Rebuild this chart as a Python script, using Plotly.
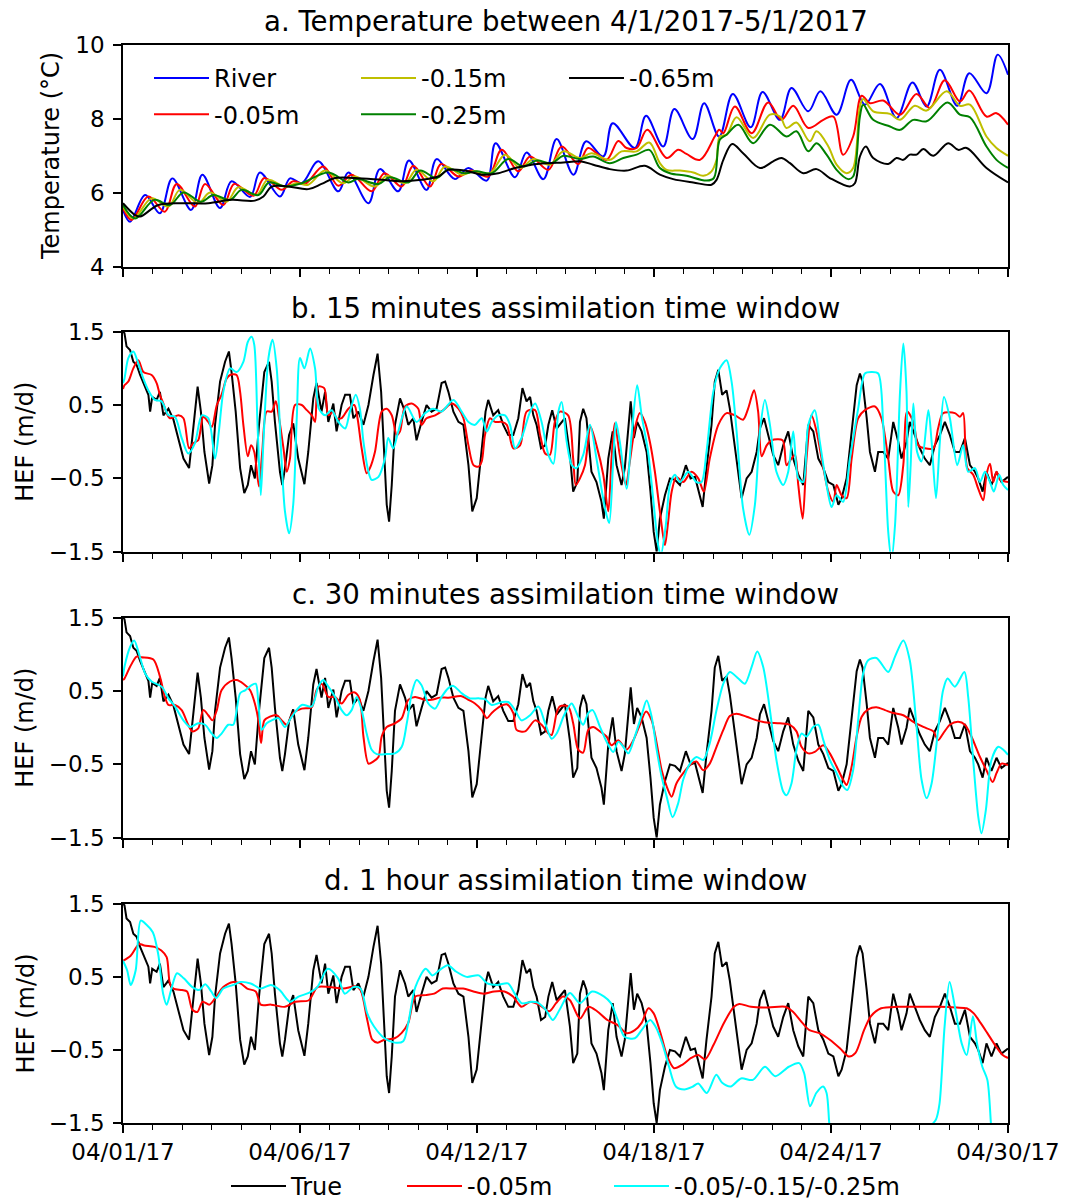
import plotly.graph_objects as go

# ---------------- data (x = days since 04/01/17 00:00) ----------------
X_TICK_DAYS = [0, 6, 12, 18, 24, 30]
X_TICK_LABELS = ["04/01/17", "04/06/17", "04/12/17", "04/18/17", "04/24/17", "04/30/17"]
TEMP_TICKS = [4, 6, 8, 10]
HEF_TICKS = [-1.5, -0.5, 0.5, 1.5]
HEF_TICK_LABELS = ["\u22121.5", "\u22120.5", "0.5", "1.5"]

# panel a: temperature (degC)
RIVER = [(0.0,5.55),(0.24,5.23),(0.75,5.95),(1.25,5.46),(1.67,6.4),(2.31,5.55),(2.69,6.5),(3.29,5.6),(3.68,6.32),(4.31,5.9),(4.64,6.56),(5.32,5.91),(5.66,6.4),(6.06,6.27),(6.62,6.86),(7.3,6.05),(7.64,6.56),(8.32,5.73),(8.71,6.65),(9.33,6.05),(9.69,6.88),(10.29,6.09),(10.63,6.92),(11.25,6.38),(11.71,6.68),(12.33,6.34),(12.63,7.35),(13.29,6.43),(13.68,7.1),(14.25,6.38),(14.7,7.46),(15.27,6.5),(15.7,7.4),(16.28,6.99),(16.6,7.89),(17.35,7.22),(17.73,8.09),(18.31,7.26),(18.69,8.27),(19.31,7.46),(19.7,8.43),(20.21,7.53),(20.67,8.68),(21.28,7.78),(21.68,8.73),(22.27,7.98),(22.66,8.84),(23.23,8.21),(23.64,8.75),(24.19,8.12),(24.68,9.06),(25.15,8.39),(25.66,8.95),(26.22,8.03),(26.76,8.99),(27.24,8.34),(27.69,9.33),(28.28,8.36),(28.69,9.24),(29.27,8.7),(29.65,9.74),(30.0,9.2)]
T005 = [(0.0,5.6),(0.29,5.28),(0.86,5.91),(1.42,5.5),(1.82,6.25),(2.44,5.64),(2.78,6.25),(3.4,5.68),(3.77,6.25),(4.42,5.93),(4.79,6.41),(5.38,6.09),(5.77,6.32),(6.17,6.25),(6.79,6.72),(7.3,6.2),(7.75,6.5),(8.43,6.05),(8.86,6.54),(9.45,6.18),(9.84,6.74),(10.41,6.18),(10.78,6.79),(11.37,6.45),(11.8,6.61),(12.38,6.45),(12.84,7.17),(13.4,6.59),(13.8,6.99),(14.42,6.63),(14.87,7.26),(15.43,6.79),(15.77,7.22),(16.39,6.9),(16.79,7.41),(17.07,7.22),(17.41,7.22),(17.77,7.71),(18.43,6.95),(18.82,7.17),(19.1,7.06),(19.56,6.9),(20.06,7.53),(20.21,7.71),(20.35,7.62),(20.74,8.34),(21.31,7.62),(21.87,8.45),(22.32,7.98),(22.72,8.36),(23.23,7.76),(23.74,7.98),(24.08,8.07),(24.41,7.04),(24.75,7.53),(25.04,8.63),(25.32,8.43),(25.77,8.5),(26.34,8.12),(26.9,8.68),(27.35,8.3),(27.86,9.05),(28.37,8.48),(28.69,8.77),(29.27,8.07),(29.61,8.16),(30.0,7.85)]
T015 = [(0.0,5.64),(0.35,5.32),(0.97,5.86),(1.54,5.64),(1.93,6.09),(2.55,5.73),(2.95,6.02),(3.51,5.77),(3.91,6.16),(4.53,5.95),(4.9,6.36),(5.49,6.18),(5.89,6.27),(6.28,6.23),(6.85,6.61),(7.45,6.27),(7.86,6.45),(8.54,6.18),(8.94,6.47),(9.56,6.27),(9.95,6.63),(10.52,6.32),(10.92,6.72),(11.48,6.5),(11.88,6.59),(12.44,6.54),(12.95,7.04),(13.46,6.68),(13.91,6.92),(14.47,6.77),(14.93,7.13),(15.49,6.95),(15.88,7.08),(16.5,6.9),(16.9,7.13),(17.41,7.13),(17.84,7.37),(18.2,6.81),(18.43,6.63),(18.88,6.61),(19.33,6.56),(19.67,6.47),(19.95,6.59),(20.12,6.9),(20.23,7.53),(20.46,7.58),(20.8,8.05),(21.36,7.49),(21.93,8.12),(22.27,8.07),(22.49,7.76),(22.83,7.91),(23.28,7.4),(23.51,7.67),(23.91,7.26),(24.19,6.77),(24.53,6.54),(24.75,6.68),(24.98,8.34),(25.09,8.54),(25.43,8.21),(26.0,8.14),(26.34,7.98),(26.84,8.36),(27.24,8.23),(27.92,8.75),(28.37,8.36),(28.71,8.39),(29.27,7.53),(29.61,7.22),(30.0,7.01)]
T025 = [(0.0,5.68),(0.41,5.32),(1.06,5.82),(1.59,5.68),(2.05,6.02),(2.64,5.77),(3.06,5.95),(3.63,5.82),(4.02,6.09),(4.59,5.95),(4.95,6.29),(5.49,6.18),(6.06,6.27),(6.96,6.56),(7.64,6.29),(7.95,6.38),(8.66,6.25),(9.05,6.43),(9.67,6.29),(10.07,6.61),(10.63,6.41),(11.03,6.65),(11.59,6.54),(11.99,6.59),(12.5,6.54),(13.06,6.92),(13.57,6.72),(14.02,6.88),(14.53,6.81),(14.93,7.01),(15.49,6.92),(15.94,6.99),(16.5,6.81),(16.96,6.95),(17.41,7.04),(17.84,7.17),(18.2,6.68),(18.54,6.54),(19.1,6.47),(19.78,6.34),(20.03,6.41),(20.23,7.44),(20.46,7.58),(20.86,7.85),(21.36,7.35),(21.93,7.85),(22.49,7.53),(22.83,7.67),(23.23,7.13),(23.51,7.35),(23.85,7.04),(24.19,6.63),(24.58,6.38),(24.75,6.45),(24.98,8.07),(25.09,8.39),(25.43,7.98),(26.0,7.8),(26.34,7.71),(26.79,7.98),(27.24,7.94),(27.95,8.45),(28.37,8.12),(28.71,8.05),(29.27,7.26),(29.61,6.9),(30.0,6.68)]
T065 = [(0.0,5.73),(0.41,5.41),(0.58,5.37),(1.2,5.68),(1.99,5.73),(2.89,5.73),(3.68,5.82),(4.47,5.8),(4.76,5.91),(5.04,6.18),(5.6,6.18),(6.28,6.11),(6.73,6.25),(7.19,6.41),(7.86,6.41),(8.77,6.36),(9.45,6.32),(10.12,6.36),(10.69,6.45),(11.03,6.63),(11.59,6.61),(12.16,6.5),(12.72,6.54),(13.29,6.68),(13.85,6.77),(14.42,6.81),(14.93,6.83),(15.49,6.86),(15.94,6.77),(16.5,6.65),(17.07,6.61),(17.69,6.74),(18.2,6.5),(18.65,6.38),(19.33,6.29),(19.95,6.23),(20.12,6.36),(20.35,6.9),(20.65,7.33),(21.02,7.08),(21.59,6.68),(22.04,6.86),(22.32,6.95),(22.61,6.81),(23.06,6.54),(23.51,6.65),(23.96,6.41),(24.64,6.18),(24.81,6.27),(24.98,6.99),(25.18,7.26),(25.43,6.95),(25.94,6.79),(26.22,6.95),(26.45,6.9),(26.67,7.04),(26.9,7.04),(27.13,7.19),(27.47,7.01),(27.97,7.35),(28.31,7.17),(28.6,7.22),(29.27,6.68),(30.0,6.29)]

# panels b-d: hyporheic exchange flux (m/d)
TRUE_HEF = [(0.0,1.5),(0.05,1.48),(0.12,1.3),(0.24,1.25),(0.35,1.09),(0.46,1.05),(0.58,0.91),(0.75,0.75),(0.86,0.64),(0.92,0.41),(0.99,0.61),(1.14,0.57),(1.25,0.68),(1.37,0.36),(1.54,0.45),(1.71,0.3),(1.88,0.05),(2.05,-0.23),(2.24,-0.36),(2.35,0.05),(2.53,0.75),(2.64,0.41),(2.76,-0.14),(2.92,-0.57),(3.03,-0.32),(3.12,0.23),(3.29,0.82),(3.46,1.09),(3.59,1.23),(3.68,0.95),(3.82,0.41),(3.97,-0.36),(4.11,-0.7),(4.23,-0.59),(4.34,-0.32),(4.47,-0.5),(4.61,0.23),(4.79,0.95),(4.95,1.09),(5.04,0.82),(5.15,0.27),(5.32,-0.41),(5.4,-0.59),(5.49,-0.36),(5.63,0.09),(5.77,0.25),(5.94,-0.23),(6.15,-0.58),(6.28,-0.14),(6.45,0.59),(6.56,0.8),(6.73,0.41),(6.85,0.68),(6.96,0.27),(7.13,0.52),(7.24,0.14),(7.41,0.5),(7.53,0.64),(7.69,0.64),(7.81,0.32),(7.98,0.41),(8.15,0.23),(8.32,0.5),(8.49,0.91),(8.63,1.2),(8.75,0.68),(8.86,-0.23),(8.94,-0.86),(9.02,-1.09),(9.11,-0.59),(9.22,0.23),(9.39,0.59),(9.56,0.41),(9.67,0.23),(9.84,0.32),(9.95,0.02),(10.12,0.27),(10.29,0.5),(10.46,0.41),(10.63,0.45),(10.8,0.8),(10.92,0.82),(11.03,0.68),(11.2,0.41),(11.37,0.27),(11.54,0.23),(11.71,-0.32),(11.84,-0.95),(11.99,-0.77),(12.16,-0.14),(12.29,0.41),(12.38,0.57),(12.55,0.36),(12.72,0.43),(12.89,0.23),(13.06,0.09),(13.23,0.09),(13.4,0.32),(13.54,0.73),(13.68,0.55),(13.8,0.61),(13.91,0.36),(14.02,0.23),(14.17,-0.09),(14.31,-0.05),(14.42,0.23),(14.55,0.43),(14.7,0.18),(14.81,0.23),(14.98,0.32),(15.15,-0.18),(15.26,-0.68),(15.4,-0.55),(15.49,0.27),(15.6,0.45),(15.71,0.32),(15.88,-0.41),(16.05,-0.55),(16.22,-0.82),(16.3,-1.05),(16.45,-0.23),(16.6,0.14),(16.73,-0.32),(16.9,-0.59),(17.01,-0.36),(17.21,0.55),(17.32,0.05),(17.43,0.27),(17.58,0.14),(17.75,-0.14),(17.88,-0.68),(17.99,-1.23),(18.09,-1.5),(18.2,-1.05),(18.37,-0.73),(18.54,-0.5),(18.71,-0.52),(18.88,-0.59),(19.08,-0.32),(19.24,-0.5),(19.39,-0.48),(19.56,-0.73),(19.65,-0.89),(19.78,-0.36),(19.95,0.23),(20.06,0.82),(20.18,0.98),(20.31,0.64),(20.46,0.7),(20.57,0.45),(20.69,0.09),(20.86,-0.41),(20.97,-0.77),(21.14,-0.5),(21.31,-0.41),(21.48,-0.14),(21.59,0.18),(21.73,0.32),(21.87,0.09),(22.04,-0.18),(22.21,-0.32),(22.38,-0.05),(22.55,0.14),(22.72,-0.23),(22.89,-0.45),(23.06,-0.59),(23.23,0.23),(23.4,0.14),(23.57,-0.23),(23.74,-0.36),(23.91,-0.55),(24.08,-0.59),(24.25,-0.86),(24.36,-0.77),(24.53,-0.5),(24.7,0.09),(24.87,0.77),(24.98,0.93),(25.07,0.82),(25.21,0.32),(25.32,-0.14),(25.49,-0.41),(25.6,-0.14),(25.77,-0.14),(25.94,-0.23),(26.11,0.27),(26.28,0.0),(26.39,-0.23),(26.56,0.0),(26.67,0.27),(26.84,0.09),(27.01,-0.09),(27.18,-0.23),(27.35,-0.32),(27.52,-0.05),(27.69,0.09),(27.86,0.27),(28.03,0.09),(28.2,-0.14),(28.37,-0.14),(28.54,0.05),(28.71,-0.32),(28.88,-0.41),(28.99,-0.5),(29.14,-0.68),(29.27,-0.41),(29.44,-0.59),(29.61,-0.41),(29.78,-0.55),(30.0,-0.48)]

RED_15MIN = [(0.0,0.72),(0.05,0.77),(0.18,0.82),(0.35,1.0),(0.52,1.11),(0.69,0.95),(0.97,0.91),(1.14,0.8),(1.25,0.64),(1.37,0.52),(1.48,0.39),(1.59,0.32),(1.88,0.36),(2.05,0.32),(2.24,-0.09),(2.38,-0.02),(2.55,0.02),(2.72,0.34),(2.89,0.27),(3.01,0.2),(3.18,0.5),(3.34,0.64),(3.51,0.86),(3.63,0.91),(3.85,0.91),(3.97,0.68),(4.08,0.23),(4.23,-0.2),(4.34,-0.05),(4.45,-0.14),(4.61,-0.61),(4.72,-0.14),(4.87,0.41),(5.04,0.41),(5.18,0.55),(5.29,0.32),(5.44,-0.09),(5.55,-0.41),(5.66,-0.23),(5.83,0.5),(6.06,0.5),(6.23,0.43),(6.4,0.36),(6.51,0.27),(6.62,0.75),(6.82,0.73),(6.96,0.36),(7.13,0.41),(7.24,0.32),(7.41,0.32),(7.64,0.45),(7.84,0.5),(7.95,0.32),(8.09,-0.09),(8.26,-0.43),(8.37,-0.36),(8.54,-0.14),(8.77,0.41),(8.94,0.45),(9.11,0.36),(9.28,0.09),(9.39,0.14),(9.56,0.48),(9.79,0.52),(10.01,0.45),(10.12,0.23),(10.29,0.32),(10.58,0.36),(10.86,0.43),(11.14,0.52),(11.37,0.45),(11.54,0.32),(11.71,-0.05),(11.88,-0.32),(12.05,-0.34),(12.16,-0.27),(12.27,0.09),(12.44,0.32),(12.61,0.27),(12.84,0.27),(13.01,0.23),(13.23,-0.09),(13.46,-0.05),(13.68,0.41),(13.97,0.43),(14.14,0.09),(14.31,-0.16),(14.47,-0.18),(14.64,0.27),(14.81,0.41),(15.09,0.36),(15.26,-0.23),(15.35,-0.59),(15.49,-0.5),(15.66,-0.32),(15.85,0.2),(16.05,-0.05),(16.28,-0.45),(16.45,-0.95),(16.56,-0.23),(16.67,0.25),(16.84,-0.18),(17.05,-0.59),(17.18,-0.27),(17.35,0.18),(17.52,0.39),(17.69,0.27),(17.86,0.0),(18.03,-0.41),(18.2,-0.95),(18.37,-1.41),(18.48,-1.09),(18.6,-0.68),(18.76,-0.48),(18.99,-0.55),(19.27,-0.41),(19.5,-0.5),(19.69,-0.68),(19.89,-0.23),(20.18,0.23),(20.46,0.39),(20.74,0.36),(21.02,0.3),(21.19,0.45),(21.39,0.7),(21.53,0.41),(21.65,-0.2),(21.82,-0.05),(21.99,0.02),(22.36,0.02),(22.49,-0.32),(22.66,-0.23),(22.78,-0.18),(22.89,-0.59),(23.04,-1.05),(23.17,-0.23),(23.34,0.36),(23.51,0.14),(23.74,-0.36),(23.91,-0.68),(24.08,-0.82),(24.19,-0.59),(24.36,-0.73),(24.53,-0.77),(24.7,-0.23),(24.92,0.32),(25.15,0.43),(25.49,0.48),(25.71,0.32),(25.94,-0.23),(26.11,-0.68),(26.28,-0.73),(26.45,-0.32),(26.58,0.41),(26.79,0.27),(26.96,-0.05),(27.18,-0.09),(27.47,-0.09),(27.63,0.18),(27.8,0.39),(28.2,0.39),(28.37,0.34),(28.48,0.39),(28.62,-0.36),(28.82,-0.45),(28.99,-0.64),(29.16,-0.8),(29.27,-0.45),(29.39,-0.3),(29.5,-0.55),(29.61,-0.41),(29.73,-0.52),(30.0,-0.55)]
CYAN_15MIN = [(0.0,0.8),(0.05,0.86),(0.18,1.14),(0.35,1.23),(0.5,1.09),(0.69,0.86),(0.86,0.7),(1.08,0.57),(1.31,0.55),(1.54,0.36),(1.76,0.34),(1.99,0.05),(2.21,-0.16),(2.44,-0.02),(2.67,0.36),(2.89,0.32),(3.12,-0.23),(3.25,0.14),(3.4,0.68),(3.63,1.0),(3.85,0.95),(4.08,1.09),(4.23,1.36),(4.36,1.43),(4.45,1.32),(4.56,0.23),(4.67,-0.73),(4.76,0.0),(4.93,1.14),(5.07,1.39),(5.21,1.0),(5.36,-0.14),(5.49,-0.95),(5.63,-1.25),(5.77,-0.86),(5.89,0.32),(6.0,1.14),(6.15,1.0),(6.34,1.27),(6.51,1.0),(6.64,0.45),(6.85,0.36),(7.07,0.43),(7.3,0.27),(7.53,0.18),(7.69,0.41),(7.89,0.64),(8.03,0.45),(8.15,0.0),(8.32,-0.41),(8.43,-0.52),(8.66,-0.48),(8.88,-0.23),(8.99,0.05),(9.16,-0.09),(9.33,0.14),(9.62,0.48),(9.95,0.27),(10.24,0.39),(10.52,0.45),(10.8,0.41),(11.2,0.57),(11.48,0.41),(11.71,0.27),(11.93,0.23),(12.16,0.32),(12.33,0.14),(12.5,0.27),(12.72,0.36),(12.95,0.36),(13.12,0.23),(13.29,-0.09),(13.51,0.05),(13.8,0.41),(13.97,0.52),(14.19,0.27),(14.42,-0.18),(14.59,-0.3),(14.76,0.41),(14.87,0.54),(15.04,0.0),(15.21,-0.32),(15.37,-0.36),(15.6,-0.18),(15.83,0.23),(16.05,-0.23),(16.34,-0.91),(16.48,-1.11),(16.62,-0.23),(16.71,0.27),(16.84,0.0),(17.07,-0.64),(17.24,0.09),(17.43,0.77),(17.58,0.36),(17.8,-0.14),(17.97,-0.77),(18.14,-1.41),(18.23,-1.55),(18.4,-1.14),(18.54,-0.59),(18.71,-0.45),(18.88,-0.55),(19.16,-0.41),(19.44,-0.55),(19.61,-0.55),(19.78,-0.14),(20.01,0.68),(20.23,1.0),(20.46,1.11),(20.63,0.82),(20.8,0.14),(21.02,-0.91),(21.23,-1.27),(21.42,-0.86),(21.59,0.14),(21.76,0.57),(21.93,0.23),(22.15,-0.41),(22.38,-0.59),(22.55,-0.41),(22.72,0.14),(22.89,-0.5),(23.06,-0.55),(23.23,0.23),(23.45,0.43),(23.62,0.0),(23.85,-0.59),(24.02,-0.89),(24.19,-0.73),(24.41,-0.82),(24.64,-0.23),(24.92,0.45),(25.15,0.93),(25.37,0.95),(25.6,0.93),(25.77,0.23),(25.94,-1.23),(26.05,-1.6),(26.17,-1.14),(26.34,0.68),(26.45,1.34),(26.56,0.68),(26.62,-0.89),(26.7,-0.32),(26.79,0.52),(26.92,-0.14),(27.07,-0.27),(27.3,0.43),(27.41,0.0),(27.56,-0.77),(27.69,0.0),(27.83,0.61),(28.03,0.32),(28.28,-0.32),(28.48,-0.05),(28.65,-0.41),(28.88,-0.36),(29.05,-0.55),(29.22,-0.41),(29.39,-0.55),(29.52,-0.68),(29.7,-0.45),(29.84,-0.59),(30.0,-0.66)]

RED_30MIN = [(0.0,0.65),(0.05,0.67),(0.24,0.83),(0.46,0.97),(0.63,0.96),(1.03,0.93),(1.25,0.7),(1.42,0.42),(1.54,0.31),(1.76,0.31),(1.99,0.24),(2.21,0.04),(2.35,-0.05),(2.55,-0.01),(2.72,0.24),(2.89,0.17),(3.03,0.1),(3.18,0.24),(3.34,0.51),(3.63,0.63),(3.85,0.65),(4.08,0.6),(4.31,0.51),(4.47,0.33),(4.59,0.1),(4.68,-0.21),(4.79,0.1),(4.98,0.15),(5.21,0.17),(5.38,0.1),(5.55,0.04),(5.77,0.2),(6.06,0.26),(6.4,0.28),(6.56,0.51),(6.73,0.6),(6.96,0.42),(7.19,0.42),(7.41,0.33),(7.64,0.45),(7.86,0.48),(8.03,0.38),(8.15,-0.12),(8.32,-0.49),(8.49,-0.46),(8.66,-0.4),(8.77,-0.12),(8.94,0.01),(9.22,0.06),(9.45,0.13),(9.67,0.38),(9.9,0.42),(10.24,0.38),(10.46,0.38),(10.75,0.41),(11.03,0.41),(11.48,0.43),(11.71,0.38),(11.93,0.33),(12.16,0.24),(12.33,0.13),(12.5,0.2),(12.78,0.29),(13.01,0.32),(13.23,0.2),(13.34,-0.03),(13.63,-0.05),(13.97,0.1),(14.19,0.04),(14.42,-0.08),(14.53,-0.1),(14.7,0.2),(14.81,0.29),(15.09,0.29),(15.26,0.06),(15.43,-0.3),(15.6,-0.34),(15.77,-0.03),(15.94,0.01),(16.17,-0.05),(16.39,-0.12),(16.56,-0.24),(16.79,-0.17),(17.07,-0.3),(17.3,-0.17),(17.52,0.04),(17.73,0.22),(17.92,0.1),(18.09,-0.21),(18.26,-0.58),(18.43,-0.8),(18.6,-0.94),(18.76,-0.76),(18.99,-0.62),(19.27,-0.49),(19.44,-0.46),(19.67,-0.58),(19.89,-0.49),(20.12,-0.26),(20.35,-0.03),(20.57,0.16),(20.8,0.19),(21.14,0.15),(21.48,0.1),(21.82,0.07),(22.27,0.06),(22.61,0.04),(22.83,-0.05),(23.0,-0.26),(23.23,-0.35),(23.45,-0.33),(23.74,-0.24),(23.96,-0.35),(24.19,-0.53),(24.41,-0.71),(24.53,-0.78),(24.7,-0.53),(24.87,-0.12),(25.04,0.15),(25.26,0.25),(25.54,0.28),(25.83,0.24),(26.11,0.2),(26.45,0.17),(26.79,0.08),(27.13,0.01),(27.47,-0.05),(27.63,-0.17),(27.8,-0.08),(28.03,0.04),(28.31,0.08),(28.54,0.04),(28.76,-0.12),(29.05,-0.4),(29.27,-0.58),(29.48,-0.74),(29.61,-0.62),(29.78,-0.49),(30.0,-0.51)]
CYAN_30MIN = [(0.0,0.7),(0.05,0.83),(0.24,1.1),(0.38,1.19),(0.54,1.01),(0.75,0.74),(0.97,0.63),(1.31,0.56),(1.54,0.4),(1.76,0.29),(2.05,0.1),(2.27,0.01),(2.55,0.06),(2.78,0.04),(3.01,-0.08),(3.18,-0.14),(3.34,-0.08),(3.57,0.04),(3.74,0.04),(3.97,0.47),(4.14,0.51),(4.36,0.58),(4.5,0.6),(4.59,0.33),(4.7,-0.03),(4.87,0.06),(5.04,0.1),(5.27,0.13),(5.49,0.01),(5.72,0.15),(6.06,0.31),(6.4,0.29),(6.62,0.56),(6.79,0.65),(6.96,0.56),(7.19,0.42),(7.41,0.24),(7.58,0.17),(7.75,0.24),(7.92,0.42),(8.09,0.24),(8.26,-0.08),(8.43,-0.3),(8.6,-0.36),(8.94,-0.36),(9.22,-0.35),(9.45,-0.26),(9.62,0.06),(9.79,0.47),(9.95,0.65),(10.12,0.58),(10.35,0.33),(10.58,0.26),(10.8,0.42),(11.03,0.54),(11.2,0.57),(11.48,0.47),(11.76,0.4),(12.05,0.4),(12.27,0.39),(12.5,0.31),(12.84,0.35),(13.06,0.35),(13.29,0.24),(13.51,0.1),(13.8,0.17),(14.08,0.29),(14.31,0.06),(14.53,-0.15),(14.7,-0.08),(14.93,0.15),(15.04,0.24),(15.21,0.33),(15.43,0.15),(15.6,0.04),(15.77,0.2),(15.92,0.24),(16.17,0.01),(16.39,-0.19),(16.62,-0.33),(16.79,-0.19),(16.96,-0.26),(17.13,-0.35),(17.35,-0.12),(17.58,0.17),(17.75,0.37),(17.92,0.15),(18.09,-0.3),(18.26,-0.67),(18.43,-0.94),(18.63,-1.22),(18.82,-1.03),(18.99,-0.71),(19.22,-0.49),(19.44,-0.4),(19.67,-0.44),(19.89,-0.21),(20.12,0.24),(20.35,0.6),(20.57,0.76),(20.86,0.67),(21.08,0.6),(21.31,0.83),(21.5,1.04),(21.7,0.83),(21.93,0.24),(22.15,-0.44),(22.38,-0.87),(22.49,-0.92),(22.66,-0.76),(22.83,-0.3),(23.0,-0.08),(23.17,-0.12),(23.4,0.01),(23.57,0.04),(23.74,-0.17),(23.96,-0.44),(24.19,-0.62),(24.41,-0.8),(24.55,-0.85),(24.75,-0.58),(24.92,0.1),(25.09,0.74),(25.26,0.92),(25.54,0.95),(25.94,0.76),(26.17,0.97),(26.45,1.19),(26.67,0.92),(26.9,0.01),(27.07,-0.71),(27.24,-0.96),(27.41,-0.76),(27.63,-0.03),(27.8,0.51),(27.95,0.67),(28.2,0.56),(28.52,0.76),(28.65,0.42),(28.82,-0.44),(28.99,-1.21),(29.1,-1.44),(29.25,-1.12),(29.44,-0.44),(29.67,-0.26),(29.84,-0.3),(30.0,-0.37)]

RED_1H = [(0.0,0.72),(0.26,0.79),(0.55,0.95),(0.72,0.93),(1.07,0.91),(1.3,0.86),(1.48,0.77),(1.59,0.41),(1.71,0.34),(2.0,0.32),(2.17,0.3),(2.35,0.05),(2.52,0.02),(2.7,0.16),(2.93,0.12),(3.16,0.23),(3.4,0.36),(3.74,0.43),(3.98,0.41),(4.21,0.34),(4.5,0.3),(4.67,0.12),(5.02,0.12),(5.49,0.09),(5.84,0.16),(6.3,0.18),(6.59,0.36),(7.0,0.36),(7.47,0.34),(7.87,0.37),(8.05,0.32),(8.28,-0.09),(8.45,-0.36),(8.63,-0.4),(8.86,-0.36),(9.21,-0.34),(9.44,-0.27),(9.67,-0.13),(9.91,0.23),(10.26,0.25),(10.55,0.27),(10.84,0.34),(11.19,0.34),(11.53,0.34),(11.88,0.3),(12.23,0.27),(12.58,0.3),(12.93,0.3),(13.22,0.23),(13.51,0.09),(13.8,0.16),(14.1,0.12),(14.45,0.03),(14.68,0.14),(14.91,0.23),(15.15,0.18),(15.49,-0.07),(15.78,0.09),(16.07,0.03),(16.42,-0.09),(16.77,-0.16),(17.06,-0.27),(17.35,-0.23),(17.58,-0.13),(17.81,0.07),(17.99,0.0),(18.22,-0.27),(18.45,-0.59),(18.68,-0.75),(18.97,-0.7),(19.26,-0.61),(19.5,-0.57),(19.73,-0.63),(20.02,-0.43),(20.37,-0.13),(20.71,0.09),(20.89,0.13),(21.29,0.09),(21.87,0.08),(22.45,0.09),(22.69,0.03),(23.03,-0.13),(23.27,-0.23),(23.61,-0.27),(23.96,-0.36),(24.31,-0.48),(24.6,-0.59),(24.83,-0.54),(25.12,-0.23),(25.35,-0.04),(25.7,0.07),(26.28,0.09),(27.1,0.09),(27.68,0.09),(28.26,0.08),(28.6,0.07),(28.84,0.0),(29.07,-0.13),(29.3,-0.27),(29.59,-0.45),(29.82,-0.57),(30.0,-0.61)]
CYAN_1H = [(0.0,0.72),(0.14,0.59),(0.26,0.39),(0.43,0.59),(0.6,1.27),(0.78,1.22),(1.01,1.11),(1.19,0.82),(1.36,0.27),(1.48,0.12),(1.63,0.32),(1.83,0.55),(2.06,0.48),(2.35,0.36),(2.58,0.32),(2.79,0.4),(2.99,0.3),(3.16,0.21),(3.4,0.34),(3.74,0.39),(3.98,0.43),(4.33,0.41),(4.67,0.34),(5.02,0.39),(5.31,0.32),(5.66,0.16),(5.95,0.23),(6.3,0.28),(6.59,0.36),(6.94,0.61),(7.29,0.48),(7.52,0.27),(7.81,0.36),(8.05,0.34),(8.28,0.0),(8.51,-0.18),(8.86,-0.34),(9.21,-0.4),(9.5,-0.38),(9.67,-0.13),(9.91,0.36),(10.26,0.61),(10.49,0.52),(10.72,0.59),(11.01,0.66),(11.3,0.57),(11.65,0.5),(12.06,0.52),(12.35,0.41),(12.7,0.39),(13.05,0.41),(13.28,0.27),(13.51,0.14),(13.86,0.16),(14.04,0.15),(14.33,0.05),(14.57,-0.09),(14.8,0.05),(15.15,0.28),(15.49,0.14),(15.9,0.3),(16.31,0.23),(16.54,0.14),(16.77,-0.09),(17.0,-0.32),(17.35,-0.34),(17.58,-0.23),(17.87,-0.09),(18.05,-0.18),(18.28,-0.41),(18.51,-0.73),(18.74,-1.0),(19.03,-1.04),(19.32,-1.0),(19.5,-0.96),(19.79,-1.09),(20.11,-0.84),(20.31,-0.95),(20.6,-1.0),(20.95,-0.89),(21.35,-0.91),(21.76,-0.73),(22.11,-0.86),(22.57,-0.73),(22.92,-0.68),(23.09,-0.82),(23.29,-1.27),(23.5,-1.09),(23.73,-1.0),(23.85,-1.09),(23.94,-1.5),(24.05,-2.0),(27.3,-2.0),(27.39,-1.55),(27.56,-1.45),(27.68,-1.23),(27.85,-0.18),(28.02,0.43),(28.2,0.09),(28.43,-0.41),(28.6,-0.57),(28.81,-0.04),(28.95,-0.41),(29.13,-0.73),(29.3,-0.91),(29.42,-1.5),(29.5,-2.0),(30.0,-2.0)]

# ---------------- figure ----------------
FONT = "DejaVu Sans"
W, H = 1066, 1201
ML, MR, MT, MB = 123, 58, 45, 78
PW, PH = W - ML - MR, H - MT - MB


def py2paper(py):
    return (H - MB - py) / PH


def px2paper(px):
    return (px - ML) / PW


def xy(pairs):
    return [p[0] for p in pairs], [p[1] for p in pairs]


fig = go.Figure()


def add_line(pairs, color, name, axis, legend=None, show=False, shape="spline", smooth=1.0, group=None):
    x, y = xy(pairs)
    line = dict(color=color, width=2, shape=shape)
    if shape == "spline":
        line["smoothing"] = smooth
    fig.add_trace(go.Scatter(
        x=x, y=y, mode="lines", name=name, line=line,
        xaxis="x" + axis, yaxis="y" + axis, showlegend=show,
        legend=legend if legend else "legend", legendgroup=group or name + axis,
        hoverinfo="skip"))


# panel a
add_line(RIVER, "#0000ff", "River", "", legend="legend", show=True)
add_line(T005, "#ff0000", "-0.05m", "", legend="legend", show=True)
add_line(T015, "#bfbf00", "-0.15m", "", legend="legend2", show=True)
add_line(T025, "#008000", "-0.25m", "", legend="legend2", show=True)
add_line(T065, "#000000", "-0.65m", "", legend="legend3", show=True)

# panels b, c, d
panels = [("2", RED_15MIN, CYAN_15MIN), ("3", RED_30MIN, CYAN_30MIN), ("4", RED_1H, CYAN_1H)]
for ax, red, cyan in panels:
    last = ax == "4"
    add_line(TRUE_HEF, "#000000", "True", ax, legend="legend4", show=last, shape="linear")
    add_line(red, "#ff0000", "-0.05m", ax, legend="legend5", show=last, smooth=0.8)
    add_line(cyan, "#00ffff", "-0.05/-0.15/-0.25m", ax, legend="legend6", show=last, smooth=0.8)

axis_line = dict(showline=True, mirror=True, linecolor="black", linewidth=1.6,
                 showgrid=False, zeroline=False, ticks="outside", ticklen=8,
                 tickwidth=1.5, tickcolor="black",
                 tickfont=dict(family=FONT, size=23, color="black"))

domains = {
    "": [py2paper(267.3), 1.0],
    "2": [py2paper(551.7), py2paper(331.7)],
    "3": [py2paper(837.7), py2paper(617.7)],
    "4": [0.0, py2paper(903.8)],
}

layout = {}
for ax, dom in domains.items():
    xname = "xaxis" + ax
    yname = "yaxis" + ax
    layout[xname] = dict(axis_line, domain=[0, 1], range=[0, 30], anchor="y" + ax,
                         tickmode="array", tickvals=X_TICK_DAYS, ticktext=X_TICK_LABELS,
                         showticklabels=(ax == "4"),
                         minor=dict(tickmode="array", tickvals=list(range(31)), ticks="outside",
                                    ticklen=5, tickwidth=1.2, tickcolor="black", showgrid=False))
    if ax == "":
        layout[yname] = dict(axis_line, domain=dom, range=[4, 10], anchor="x",
                             tickmode="array", tickvals=TEMP_TICKS, ticklabelstandoff=4,
                             ticktext=[str(v) for v in TEMP_TICKS])
    else:
        layout[yname] = dict(axis_line, domain=dom, range=[-1.5, 1.5], anchor="x" + ax,
                             tickmode="array", tickvals=HEF_TICKS, ticktext=HEF_TICK_LABELS,
                             ticklabelstandoff=4)

fig.update_layout(**layout)

TITLES = [
    ("a. Temperature between 4/1/2017-5/1/2017", 22),
    ("b. 15 minutes assimilation time window", 308),
    ("c. 30 minutes assimilation time window", 594),
    ("d. 1 hour assimilation time window", 880),
]
annotations = []
for text, ypix in TITLES:
    annotations.append(dict(text=text, x=0.5, y=py2paper(ypix), xref="paper", yref="paper",
                            xanchor="center", yanchor="middle", showarrow=False,
                            font=dict(family=FONT, size=27.6, color="black")))
YLABELS = [
    ("Temperature (\u00b0C)", 51, 156),
    ("HEF (m/d)", 25, 441.7),
    ("HEF (m/d)", 25, 727.7),
    ("HEF (m/d)", 25, 1013.5),
]
for text, xpix, ypix in YLABELS:
    annotations.append(dict(text=text, x=px2paper(xpix), y=py2paper(ypix), xref="paper",
                            yref="paper", xanchor="center", yanchor="middle", textangle=-90,
                            showarrow=False, font=dict(family=FONT, size=24, color="black")))

# legend box left edges chosen so that entry text starts where the reference's text starts
leg_common = dict(xanchor="left", yanchor="top", bgcolor="rgba(0,0,0,0)", borderwidth=0,
                  font=dict(family=FONT, size=24, color="black"), orientation="v",
                  traceorder="grouped", tracegroupgap=2, itemwidth=55)

fig.update_layout(
    width=W, height=H,
    margin=dict(l=ML, r=MR, t=MT, b=MB, autoexpand=False),
    paper_bgcolor="white", plot_bgcolor="white",
    font=dict(family=FONT, color="black"),
    annotations=annotations,
    legend=dict(leg_common, x=px2paper(149), y=py2paper(56)),
    legend2=dict(leg_common, x=px2paper(356), y=py2paper(56)),
    legend3=dict(leg_common, x=px2paper(564), y=py2paper(56)),
    legend4=dict(leg_common, x=px2paper(226), y=py2paper(1164)),
    legend5=dict(leg_common, x=px2paper(402), y=py2paper(1164)),
    legend6=dict(leg_common, x=px2paper(609), y=py2paper(1164)),
)

fig.write_html("out.html", config={"displayModeBar": False},
               post_script="document.body.style.margin='0px';")
